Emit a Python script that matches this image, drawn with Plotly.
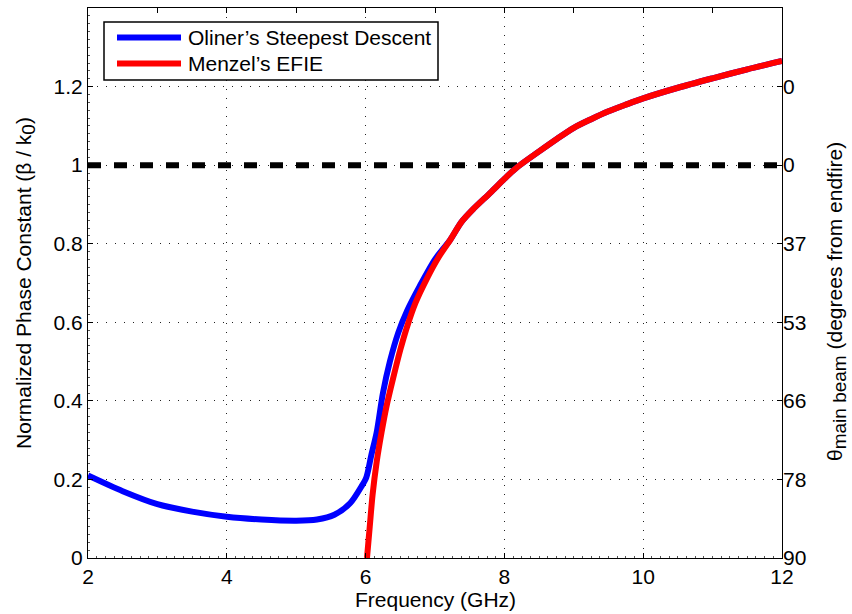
import plotly.graph_objects as go

# Frequency sweep (GHz) and normalized phase constant beta/k0
oliner_freq = [2.0, 2.5, 3.0, 3.5, 4.0, 4.5, 5.0, 5.3, 5.55, 5.78, 5.94, 6.01, 6.08, 6.16,
               6.25, 6.35, 6.47, 6.6, 6.78, 7.0, 7.22, 7.38, 7.55, 7.8, 8.0, 8.18,
               8.5, 8.75, 9.0, 9.25, 9.5, 9.75, 10.0, 10.5, 11.0, 11.5, 12.0]
oliner_beta = [0.21, 0.17, 0.137, 0.118, 0.105, 0.098, 0.095, 0.098, 0.11, 0.14, 0.182,
               0.205, 0.26, 0.32, 0.42, 0.50, 0.573, 0.63, 0.692, 0.76, 0.81, 0.855,
               0.888, 0.93, 0.965, 0.994, 1.035, 1.066, 1.095, 1.117, 1.137, 1.154,
               1.170, 1.197, 1.221, 1.244, 1.265]

menzel_freq = [6.02, 6.06, 6.10, 6.16, 6.23, 6.30, 6.40, 6.50, 6.60, 6.72, 6.88, 7.05,
               7.22, 7.38, 7.55, 7.8, 8.0, 8.18, 8.5, 8.75, 9.0, 9.25, 9.5, 9.75, 10.0,
               10.5, 11.0, 11.5, 12.0]
menzel_beta = [0.0, 0.08, 0.16, 0.245, 0.32, 0.385, 0.46, 0.53, 0.59, 0.65, 0.71, 0.765,
               0.81, 0.855, 0.888, 0.93, 0.965, 0.994, 1.035, 1.066, 1.095, 1.117, 1.137,
               1.154, 1.170, 1.197, 1.221, 1.244, 1.265]

light_line_freq = [2, 12]
light_line_beta = [1, 1]

# Right axis: main-beam angle labels at the left-axis tick positions
beta_ticks = [0, 0.2, 0.4, 0.6, 0.8, 1.0, 1.2]
angle_ticklabels = ["90", "78", "66", "53", "37", "0", "0"]

series_names = ["Oliner\u2019s Steepest Descent", "Menzel\u2019s EFIE"]
series_colors = ["#0000ff", "#ff0000"]

FONT = "Liberation Sans, Arial, Helvetica, sans-serif"
FS = 21
W, H = 852, 614
L, R, T, B = 88, 70, 8, 56

fig = go.Figure()
fig.add_trace(go.Scatter(x=light_line_freq, y=light_line_beta, mode="lines",
                         line=dict(color="black", width=6, dash="13px,13px"),
                         showlegend=False, hoverinfo="skip"))
fig.add_trace(go.Scatter(x=oliner_freq, y=oliner_beta, mode="lines", name=series_names[0],
                         line=dict(color=series_colors[0], width=6, shape="spline", smoothing=0.8),
                         showlegend=False))
fig.add_trace(go.Scatter(x=menzel_freq, y=menzel_beta, mode="lines", name=series_names[1],
                         line=dict(color=series_colors[1], width=6, shape="spline", smoothing=0.8),
                         showlegend=False))
# invisible trace to activate the right-hand angle axis
fig.add_trace(go.Scatter(x=[2], y=[0], yaxis="y2", mode="markers",
                         marker=dict(opacity=0), showlegend=False, hoverinfo="skip"))
# invisible trace to activate the top axis
fig.add_trace(go.Scatter(x=[2], y=[0], xaxis="x2", mode="markers",
                         marker=dict(opacity=0), showlegend=False, hoverinfo="skip"))

grid = dict(showgrid=True, gridcolor="#222222", gridwidth=1, griddash="1px,8px")

fig.update_layout(
    width=W, height=H,
    margin=dict(l=L, r=R, t=T, b=B, autoexpand=False),
    paper_bgcolor="white", plot_bgcolor="white",
    font=dict(family=FONT, size=FS, color="black"),
    xaxis=dict(range=[2, 12], tick0=2, dtick=2, ticks="inside", ticklen=5,
               tickcolor="black", showline=True, linecolor="black", linewidth=1,
               mirror=True, zeroline=False, automargin=False,
               minor=dict(ticks="inside", ticklen=2, dtick=0.125, tickcolor="#555555",
                          showgrid=False),
               **grid),
    xaxis2=dict(range=[2, 12], overlaying="x", side="top", tick0=2, dtick=1, ticks="inside",
                ticklen=5, tickcolor="black", showticklabels=False, showgrid=False,
                zeroline=False, showline=False),
    yaxis=dict(range=[0, 1.4], tick0=0, dtick=0.2, ticks="inside", ticklen=5,
               tickcolor="black", showline=True,
               linecolor="black", linewidth=1, mirror=True, zeroline=False,
               automargin=False,
               minor=dict(ticks="inside", ticklen=2, dtick=0.02, tickcolor="#555555",
                          showgrid=False),
               **grid),
    yaxis2=dict(range=[0, 1.4], overlaying="y", side="right", tickmode="array",
                tickvals=beta_ticks, ticktext=angle_ticklabels, ticks="inside", ticklen=5,
                tickcolor="black", showgrid=False, zeroline=False, showline=False,
                automargin=False),
)


def px(xp):
    return (xp - L) / (W - L - R)


def py(yp):
    return ((H - B) - yp) / (H - T - B)


full_sub = "<sub><span style='font-size:%dpx'>%s</span></sub>"

# axis titles
fig.add_annotation(text="Frequency (GHz)", xref="paper", yref="paper", x=0.5,
                   y=py(613), yanchor="bottom", showarrow=False)
fig.add_annotation(text="Normalized Phase Constant (\u03b2 / k" + full_sub % (FS - 2, "0") + ")",
                   xref="paper", yref="paper", x=px(25), xanchor="center",
                   y=py(283), yanchor="middle", textangle=-90, showarrow=False)
fig.add_annotation(text="\u03b8" + full_sub % (FS - 2, "main beam") + " (degrees from endfire)",
                   xref="paper", yref="paper", x=px(836), xanchor="center",
                   y=py(302), yanchor="middle", textangle=-90, showarrow=False)

# legend box with long sample lines
fig.add_shape(type="rect", xref="paper", yref="paper", x0=px(104), x1=px(438),
              y0=py(80), y1=py(22), line=dict(color="black", width=1.5),
              fillcolor="white", layer="above")
for i, (name, col) in enumerate(zip(series_names, series_colors)):
    yy = 37.5 + 26 * i
    fig.add_shape(type="line", xref="paper", yref="paper", x0=px(117), x1=px(181),
                  y0=py(yy), y1=py(yy), line=dict(color=col, width=6), layer="above")
    fig.add_annotation(text=name, xref="paper", yref="paper", x=px(186), xanchor="left",
                       y=py(yy), yanchor="middle", showarrow=False)

fig.write_html("out.html")
